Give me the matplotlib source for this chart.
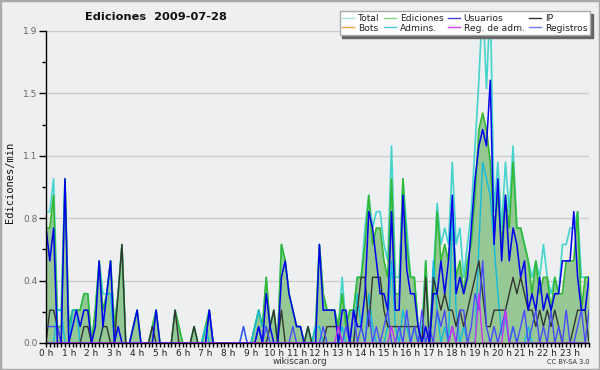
import matplotlib
matplotlib.use('Agg')
import matplotlib.pyplot as plt
from matplotlib.lines import Line2D
from matplotlib.patches import Rectangle
import numpy as np

title = "Ediciones  2009-07-28"
hour_labels = [f"{h} h" for h in range(24)]
y_ticks = [0.0, 0.38, 0.76, 1.14, 1.52, 1.9]

ediciones = [0.7,0.7,0.9,0.1,0.1,1.0,0.1,0.2,0.2,0.2,0.3,0.3,
             0.0,0.2,0.5,0.2,0.3,0.5,0.1,0.3,0.6,0.0,0.0,0.1,
             0.2,0.0,0.0,0.0,0.1,0.2,0.0,0.0,0.0,0.0,0.2,0.1,
             0.0,0.0,0.0,0.1,0.0,0.0,0.1,0.2,0.0,0.0,0.0,0.0,
             0.0,0.0,0.0,0.0,0.0,0.0,0.0,0.1,0.2,0.1,0.4,0.1,
             0.2,0.0,0.6,0.5,0.3,0.2,0.1,0.1,0.0,0.1,0.0,0.1,
             0.6,0.3,0.2,0.2,0.2,0.1,0.3,0.1,0.2,0.2,0.4,0.4,
             0.6,0.9,0.6,0.7,0.7,0.5,0.4,1.0,0.3,0.3,1.0,0.6,
             0.4,0.4,0.1,0.0,0.5,0.0,0.3,0.8,0.5,0.6,0.5,0.8,
             0.4,0.5,0.3,0.5,0.6,0.9,1.3,1.4,1.3,1.1,0.7,0.9,
             0.6,0.9,0.7,1.1,0.7,0.7,0.6,0.5,0.3,0.5,0.3,0.4,
             0.4,0.2,0.4,0.3,0.3,0.5,0.5,0.5,0.8,0.2,0.4,0.4]

total = [0.8,0.8,1.0,0.2,0.2,1.0,0.1,0.2,0.2,0.2,0.3,0.3,
         0.0,0.2,0.5,0.3,0.3,0.5,0.1,0.3,0.6,0.0,0.0,0.1,
         0.2,0.0,0.0,0.0,0.1,0.2,0.0,0.0,0.0,0.0,0.2,0.1,
         0.0,0.0,0.0,0.1,0.0,0.0,0.1,0.2,0.0,0.0,0.0,0.0,
         0.0,0.0,0.0,0.0,0.1,0.0,0.0,0.1,0.2,0.1,0.4,0.1,
         0.2,0.0,0.6,0.5,0.3,0.2,0.1,0.1,0.0,0.1,0.0,0.1,
         0.6,0.3,0.2,0.2,0.2,0.1,0.4,0.1,0.2,0.2,0.4,0.4,
         0.7,0.9,0.7,0.8,0.8,0.6,0.5,1.2,0.4,0.4,1.0,0.7,
         0.4,0.4,0.1,0.1,0.5,0.0,0.4,0.85,0.6,0.7,0.6,1.1,
         0.6,0.7,0.4,0.6,0.8,1.2,1.6,2.1,1.55,2.1,0.8,1.1,
         0.7,1.1,0.8,1.2,0.7,0.7,0.6,0.5,0.4,0.5,0.4,0.6,
         0.4,0.3,0.4,0.3,0.6,0.6,0.7,0.7,0.8,0.4,0.4,0.4]

usuarios = [0.7,0.5,0.7,0.0,0.0,1.0,0.0,0.1,0.2,0.1,0.2,0.2,
            0.0,0.1,0.5,0.1,0.3,0.5,0.0,0.1,0.0,0.0,0.0,0.1,
            0.2,0.0,0.0,0.0,0.0,0.2,0.0,0.0,0.0,0.0,0.0,0.0,
            0.0,0.0,0.0,0.0,0.0,0.0,0.0,0.2,0.0,0.0,0.0,0.0,
            0.0,0.0,0.0,0.0,0.0,0.0,0.0,0.0,0.1,0.0,0.3,0.1,
            0.0,0.0,0.4,0.5,0.3,0.2,0.1,0.1,0.0,0.0,0.0,0.0,
            0.6,0.2,0.2,0.2,0.2,0.0,0.2,0.2,0.0,0.2,0.1,0.1,
            0.3,0.8,0.7,0.5,0.3,0.3,0.2,0.8,0.2,0.2,0.9,0.45,
            0.3,0.3,0.1,0.0,0.1,0.0,0.3,0.3,0.5,0.3,0.5,0.9,
            0.3,0.4,0.3,0.4,0.7,1.0,1.2,1.3,1.2,1.6,0.6,1.0,
            0.5,0.9,0.5,0.7,0.6,0.4,0.5,0.2,0.3,0.2,0.4,0.2,
            0.3,0.2,0.3,0.3,0.5,0.5,0.5,0.8,0.4,0.2,0.2,0.4]

ip = [0.0,0.2,0.2,0.1,0.0,0.0,0.0,0.0,0.0,0.0,0.1,0.1,
      0.0,0.0,0.0,0.1,0.1,0.0,0.0,0.3,0.6,0.0,0.0,0.0,
      0.0,0.0,0.0,0.0,0.1,0.0,0.0,0.0,0.0,0.0,0.2,0.0,
      0.0,0.0,0.0,0.1,0.0,0.0,0.0,0.0,0.0,0.0,0.0,0.0,
      0.0,0.0,0.0,0.0,0.0,0.0,0.0,0.0,0.0,0.0,0.0,0.1,
      0.2,0.0,0.2,0.0,0.0,0.0,0.0,0.0,0.0,0.1,0.0,0.0,
      0.0,0.0,0.1,0.1,0.1,0.1,0.0,0.0,0.0,0.0,0.2,0.4,
      0.4,0.1,0.4,0.4,0.4,0.2,0.1,0.1,0.1,0.1,0.1,0.1,
      0.1,0.1,0.1,0.0,0.4,0.0,0.4,0.3,0.2,0.3,0.2,0.2,
      0.1,0.2,0.1,0.2,0.3,0.4,0.5,0.3,0.1,0.1,0.2,0.2,
      0.2,0.2,0.3,0.4,0.3,0.4,0.3,0.2,0.2,0.1,0.2,0.1,
      0.2,0.1,0.2,0.1,0.0,0.0,0.0,0.1,0.2,0.2,0.2,0.0]

admins = [0.0,0.0,0.0,0.2,0.2,0.0,0.0,0.2,0.2,0.0,0.0,0.0,
          0.0,0.0,0.0,0.1,0.3,0.3,0.0,0.0,0.0,0.0,0.0,0.0,
          0.0,0.0,0.0,0.0,0.0,0.0,0.0,0.0,0.0,0.0,0.0,0.0,
          0.0,0.0,0.0,0.0,0.0,0.0,0.1,0.0,0.0,0.0,0.0,0.0,
          0.0,0.0,0.0,0.0,0.0,0.0,0.0,0.1,0.2,0.1,0.1,0.0,
          0.0,0.0,0.0,0.0,0.0,0.0,0.0,0.0,0.0,0.0,0.0,0.1,
          0.1,0.0,0.0,0.0,0.0,0.0,0.1,0.0,0.0,0.0,0.3,0.1,
          0.0,0.3,0.1,0.0,0.0,0.0,0.1,0.5,0.1,0.0,0.2,0.1,
          0.0,0.1,0.0,0.1,0.0,0.0,0.5,0.2,0.0,0.1,0.0,0.8,
          0.2,0.0,0.1,0.0,0.0,0.0,0.6,1.1,1.0,0.9,0.6,0.3,
          0.05,0.15,0.0,0.1,0.0,0.0,0.0,0.1,0.0,0.0,0.0,0.0,
          0.0,0.0,0.0,0.0,0.0,0.0,0.0,0.0,0.0,0.0,0.0,0.0]

registros = [0.1,0.1,0.1,0.1,0.0,0.0,0.0,0.0,0.0,0.0,0.0,0.0,
             0.0,0.0,0.0,0.0,0.0,0.0,0.0,0.0,0.0,0.0,0.0,0.0,
             0.0,0.0,0.0,0.0,0.0,0.0,0.0,0.0,0.0,0.0,0.0,0.0,
             0.0,0.0,0.0,0.0,0.0,0.0,0.0,0.2,0.0,0.0,0.0,0.0,
             0.0,0.0,0.0,0.0,0.1,0.0,0.0,0.0,0.1,0.0,0.1,0.0,
             0.0,0.0,0.0,0.0,0.0,0.1,0.0,0.0,0.0,0.0,0.0,0.0,
             0.0,0.1,0.0,0.0,0.0,0.0,0.0,0.1,0.0,0.2,0.0,0.1,
             0.0,0.2,0.0,0.1,0.0,0.1,0.2,0.0,0.0,0.1,0.0,0.2,
             0.0,0.1,0.0,0.2,0.0,0.1,0.0,0.2,0.1,0.2,0.0,0.1,
             0.0,0.2,0.2,0.0,0.1,0.3,0.2,0.5,0.1,0.0,0.1,0.0,
             0.1,0.2,0.0,0.1,0.0,0.1,0.2,0.0,0.1,0.2,0.0,0.1,
             0.0,0.2,0.0,0.1,0.0,0.2,0.0,0.0,0.1,0.2,0.0,0.2]

reg_adm = [0.0]*77 + [0.1] + [0.0]*13 + [0.1] + [0.0]*15 + [0.1] + \
          [0.0]*6 + [0.3] + [0.0]*6 + [0.2] + [0.0]*22

bots = [0.0]*144

bg = '#eeeff1'
fig = plt.figure(figsize=(6, 3.7), dpi=100, facecolor=bg)
ax = fig.add_axes([46/600, 1-343/370, 543/600, 312/370])
ax.set_facecolor(bg)
x = np.arange(len(ediciones))

for yv in y_ticks[1:]:
    ax.axhline(yv, color='#cccccc', lw=1, zorder=0)

ax.plot(x, bots, color='#ff9922', lw=1, zorder=0.5)
ax.fill_between(x, ediciones, 0, color='#96c896', lw=0, zorder=1)
ax.plot(x, total, color='#44d4cc', lw=1.2, zorder=2)
ax.plot(x, ediciones, color='#33b833', lw=1.2, zorder=2.1)
ax.plot(x, admins, color='#11bbdd', lw=1.0, zorder=2.2)
ax.plot(x, ip, color='#333333', lw=1.0, zorder=2.3)
ax.plot(x, registros, color='#4a4aff', lw=1.0, zorder=2.4)
ax.plot(x, usuarios, color='#0000ee', lw=1.1, zorder=2.5)
ax.plot(x, reg_adm, color='#cc33ee', lw=1.0, zorder=2.6)

ax.set_xlim(0, len(ediciones) - 1)
ax.set_ylim(0, 1.9)
for s in ['top', 'right']:
    ax.spines[s].set_visible(False)
for s in ['left', 'bottom']:
    ax.spines[s].set_color('black')
    ax.spines[s].set_linewidth(1)
    ax.spines[s].set_zorder(5)

ax.set_yticks(y_ticks)
ax.set_yticklabels([f"{v:.1f}" for v in y_ticks])
ax.set_yticks([v + 0.19 for v in y_ticks[:-1]], minor=True)
ax.set_xticks(np.arange(0, 144, 6))
ax.set_xticklabels(hour_labels)
ax.set_xticks(np.arange(0, 144, 1), minor=True)
ax.tick_params(axis='y', which='major', length=5, width=1, labelsize=6.5,
               labelcolor='#666666', pad=1)
ax.tick_params(axis='y', which='minor', length=3, width=1)
ax.tick_params(axis='x', which='both', length=3, width=1, labelsize=6.5,
               labelcolor='#222222', pad=1)

fig.text(85/600, 1-20/370, title, fontsize=8.2, fontweight='bold',
         color='#111111', ha='left', va='baseline')
fig.text(10/600, 0.508, 'Ediciones/min', rotation=90, fontsize=7.5,
         family='DejaVu Sans Mono', ha='center', va='center', color='#111111')
fig.text(0.5, 1-362/370, 'wikiscan.org', fontsize=6.3, ha='center',
         va='center', color='#333333')
fig.text(590/600, 1-362/370, 'CC BY-SA 3.0', fontsize=4.8, ha='right',
         va='center', color='#333333')

handles = [Line2D([], [], color='#a8e0e0', lw=1),
           Line2D([], [], color='#f0a040', lw=1),
           Line2D([], [], color='#88d088', lw=1),
           Line2D([], [], color='#44c8d8', lw=1),
           Line2D([], [], color='#4444e0', lw=1),
           Line2D([], [], color='#cc44dd', lw=1),
           Line2D([], [], color='#333333', lw=1),
           Line2D([], [], color='#7878f0', lw=1)]
labels = ['Total', 'Bots', 'Ediciones', 'Admins.', 'Usuarios',
          'Reg. de adm.', 'IP', 'Registros']
leg = ax.legend(handles, labels, ncol=4, loc='upper right',
                bbox_to_anchor=(590/600, 1-11/370), bbox_transform=fig.transFigure,
                fancybox=False, shadow={'color': '#666666', 'alpha': 1},
                framealpha=1, edgecolor='#aaaaaa', fontsize=6.6,
                handlelength=1.3, columnspacing=0.5, labelspacing=0.1,
                borderpad=0.3, handletextpad=0.4, borderaxespad=0)
leg.get_frame().set_linewidth(1)
for t in leg.get_texts():
    t.set_color('#222222')

fig.patches.append(Rectangle((0, 0), 1, 1, transform=fig.transFigure,
                             fill=False, edgecolor='#aaaaaa', lw=2.5))

fig.savefig('out.png', dpi=100, facecolor=bg)
